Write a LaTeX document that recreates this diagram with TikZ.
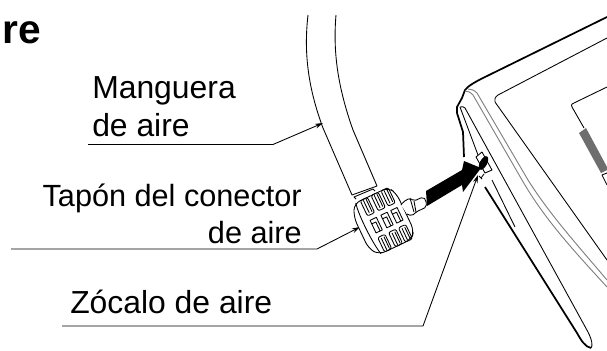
\documentclass[tikz,border=0pt]{standalone}
\usepackage{fontspec}
\setmainfont{Liberation Sans}
\usetikzlibrary{arrows.meta}
\definecolor{barra}{HTML}{6E6E6E}
\tikzset{
  etiqueta/.style={inner sep=0pt, font=\fontsize{23.9pt}{28pt}\selectfont},
  etiquetaB/.style={inner sep=0pt, font=\fontsize{23pt}{28pt}\selectfont},
  linea/.style={line width=0.65pt, line join=round},
  gruesa/.style={line width=1.3pt, line join=round},
  gris/.style={line width=0.7pt, color=black!50},
  guia/.style={line width=0.65pt, line join=round, -{Stealth[length=6pt,width=3.6pt]}}
}
\begin{document}
\begin{tikzpicture}[x=0.75pt,y=-0.75pt]
\useasboundingbox (0,0) rectangle (607,350);
% titulo cortado
\node [anchor=base west, inner sep=0pt, font=\fontsize{30.5pt}{34pt}\selectfont\bfseries] (titulo) at (2,43) {re};
% etiquetas
\node [etiqueta, anchor=base west] (manguera) at (92,98) {Manguera};
\node [etiqueta, anchor=base west] (mangueraB) at (92,136) {de aire};
\node [etiquetaB, anchor=base east] (tapon) at (302,206) {Tapón del conector};
\node [etiquetaB, anchor=base east] (taponB) at (302,243) {de aire};
\node [etiqueta, anchor=base west] (zocalo) at (70,313) {Zócalo de aire};
% lineas guia
\coordinate (v1) at (88,144.5);
\coordinate (v2) at (273,144.5);
\coordinate (v3) at (323,123);
\coordinate (v4) at (11,249);
\coordinate (v5) at (317,249);
\coordinate (v6) at (360,227);
\coordinate (v7) at (62,326);
\coordinate (v8) at (423,326);
\coordinate (v9) at (478,175);
\draw [guia] (v1) -- (v2) -- (v3);
\draw [guia] (v4) -- (v5) -- (v6);
\draw [guia] (v7) -- (v8) -- (v9);
% manguera
\draw [linea] (308,15) .. controls (304,50) and (307,85) .. (323,128) -- (352,195) -- (377,186);
\draw [linea] (336,15) .. controls (333,50) and (337,85) .. (353,130) -- (377,186);
\draw [linea] (356,199) -- (354,197) -- (373,189) -- (375,191);
% tapon
\begin{scope}[shift={(387,220)}, x={(.675pt,.32pt)}, y={(.32pt,-.675pt)}]
\draw [linea, fill=white, rounded corners=5pt] (-29,-16) -- (-23,-29) -- (15,-29) -- (20,-20) -- (20,21) -- (14,28) -- (-22,28) -- (-29,18) -- cycle;
\draw [linea] (-21,-29) .. controls (-24,-16) and (-23,16) .. (-20,28);
\foreach \c in {-12,0,11} {
  % fila superior
  \draw [linea, rounded corners=1.5pt] (\c-4,-12) -- (\c-4,-29) -- (\c+4,-29) -- (\c+4,-12) -- cycle;
  \draw [linea] (\c-1,-14) -- (\c-1,-28) (\c+2,-14) -- (\c+2,-28);
  % fila central
  \draw [linea] (\c-3.5,-7) -- (\c+3.5,-7) -- (\c+3.5,7) -- (\c-3.5,7) -- cycle;
  \draw [linea] (\c-3.5,-3) -- (\c+1,-3) -- (\c+1,7);
  % fila inferior
  \draw [linea, rounded corners=1.5pt] (\c-4,12) -- (\c-4,28) -- (\c+4,28) -- (\c+4,12) -- cycle;
  \draw [linea] (\c-1,14) -- (\c-1,27) (\c+2,14) -- (\c+2,27);
}
\end{scope}
% boquilla
\draw [linea, fill=white, rounded corners=1.5pt] (401,205) -- (403,202) -- (410,198) -- (414,201) -- (423,197) -- (426,200) -- (426.5,207) -- (416,212) -- (412,216) -- (407,214);
\draw [linea] (410,198) -- (414,212) (414,201) -- (416,212);
% flecha
\fill (426,191) -- (462,170) -- (464,161) -- (481,168) -- (463,192) -- (462,185) -- (427,206) -- cycle;
% aparato
\draw [gruesa] (607,17) -- (483,78) .. controls (475,82) and (468,86) .. (465,90) -- (462,98) -- (457,107) -- (457,113) -- (463,132) -- (464,157);
\draw [linea] (607,38) -- (498,95) .. controls (495,97) and (494,100) .. (495,102) -- (607,260);
\draw [linea] (607,87) -- (574,103) .. controls (571,104) and (571,106) .. (572,107) -- (584,128);
\draw [gris] (465,91) .. controls (468,91) and (470,92) .. (473,95) -- (522,180) .. controls (545,220) and (575,252) .. (607,287);
\draw [gris] (468,89) .. controls (471,89) and (474,90) .. (477,93) -- (528,180) .. controls (550,215) and (580,248) .. (607,280);
\draw [linea] (460,107) -- (478,155);
\draw [linea] (492,180) -- (515,227);
\draw [linea] (460,107) .. controls (462,106) and (464,107) .. (465,108) -- (588,332) .. controls (592,340) and (593,346) .. (591,348);
\draw [gruesa] (485,187) -- (577,333) .. controls (581,340) and (585,347) .. (591,348);
% zocalo
\draw [linea, fill=white] (482,152) -- (476,157) -- (485,173) -- (492,170) -- cycle;
\fill [rotate around={-28:(483.5,163)}] (483.5,163) ellipse (3.6 and 7.5);
\draw [linea] (481,178) -- (484,174) (479,176) -- (482,179);
% panel gris
\fill [barra] (579,133) -- (586,128) -- (607,167) -- (607,170) -- (601,173) -- cycle;
\draw [linea] (607,173) -- (602,175) -- (607,185);
\end{tikzpicture}
\end{document}
